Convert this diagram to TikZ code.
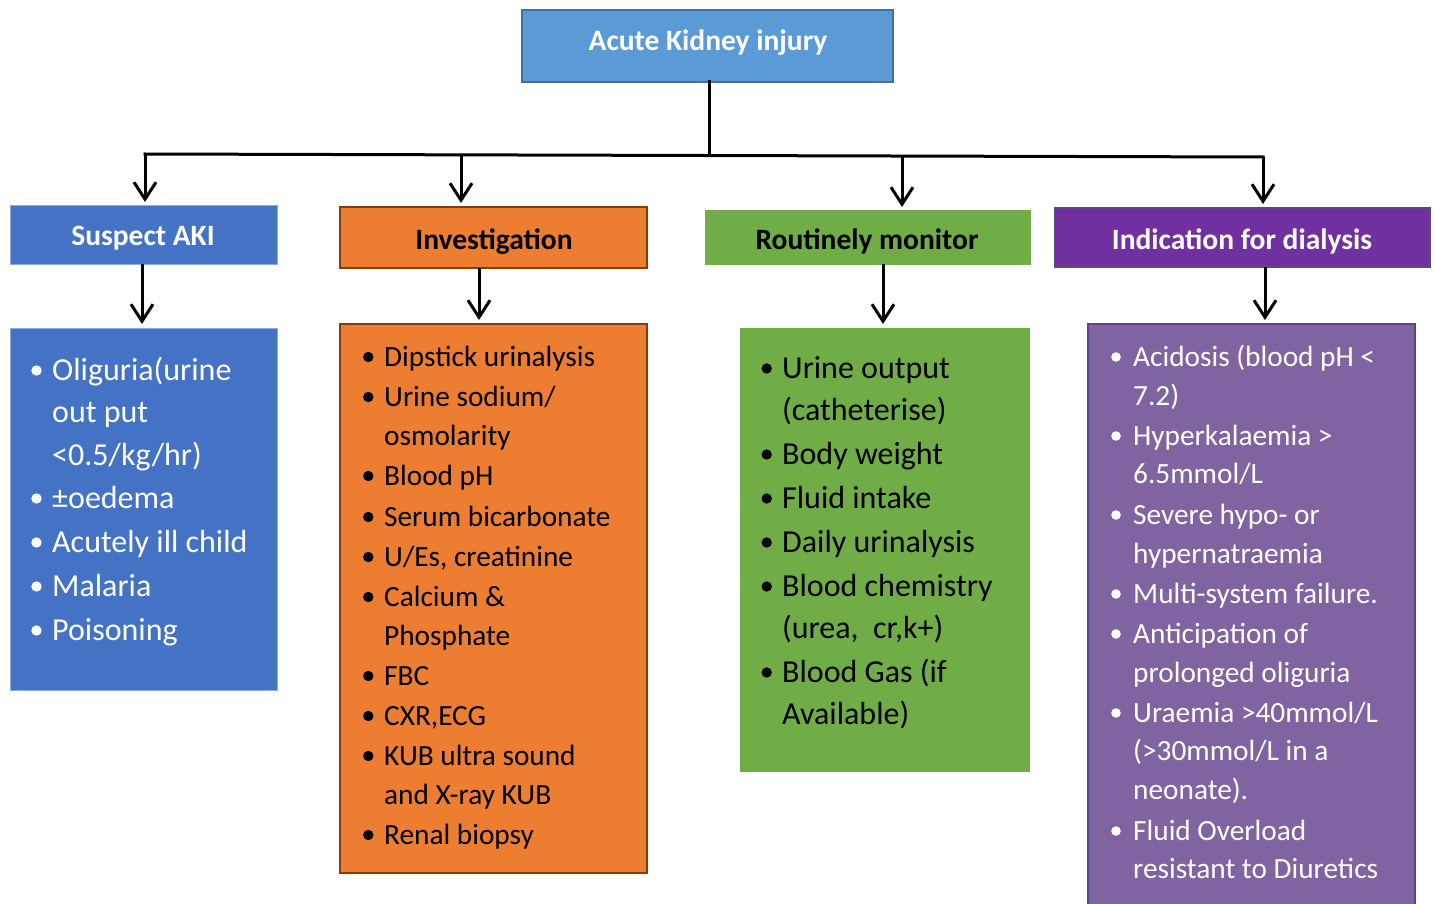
\documentclass[tikz,border=0pt]{standalone}
\usepackage{fontspec}
\setmainfont{Carlito}
\usetikzlibrary{arrows.meta}
\definecolor{topfill}{HTML}{5B9BD5}
\definecolor{topdraw}{HTML}{41719C}
\definecolor{susfill}{HTML}{4472C4}
\definecolor{susdraw}{HTML}{8FAADC}
\definecolor{invfill}{HTML}{ED7D31}
\definecolor{invdraw}{HTML}{843C0C}
\definecolor{roufill}{HTML}{70AD47}
\definecolor{diahead}{HTML}{7030A0}
\definecolor{diafill}{HTML}{8064A2}
\definecolor{diadraw}{HTML}{5C4683}
\begin{document}
\begin{tikzpicture}[x=1pt,y=-1pt,
  box/.style={anchor=north west, inner sep=0pt, outer sep=0pt},
  headtext/.style={font=\fontsize{29.5}{33}\selectfont\bfseries, inner sep=0pt, anchor=base},
  bigtext/.style={font=\fontsize{32}{36}\selectfont, inner sep=0pt, anchor=base west},
  smalltext/.style={font=\fontsize{29.3}{33}\selectfont, inner sep=0pt, anchor=base west},
  conn/.style={line width=3pt, line cap=rect},
  arr/.style={line width=3pt, -{Straight Barb[length=17pt,width=22pt]}, shorten >=4pt}]
\useasboundingbox (0,0) rectangle (1435,904);
\clip (0,0) rectangle (1435,904);
% header boxes
\node[box, fill=topfill, draw=topdraw, line width=1.5pt, minimum width=371pt, minimum height=72pt] (top) at (522,10) {};
\node[headtext, text=white] (toptxt) at (708,51) {Acute Kidney injury};
\node[box, fill=susfill, draw=susdraw, line width=1pt, minimum width=267pt, minimum height=58pt] (sus) at (10,206) {};
\node[headtext, text=white] (sustxt) at (143,245) {Suspect AKI};
\node[box, fill=invfill, draw=invdraw, line width=2pt, minimum width=307pt, minimum height=61pt] (inv) at (340,207) {};
\node[headtext, text=black] (invtxt) at (494,249) {Investigation};
\node[box, fill=roufill, draw=roufill, line width=1pt, minimum width=325pt, minimum height=53pt] (rou) at (705,211) {};
\node[headtext, text=black] (routxt) at (867,250) {Routinely monitor};
\node[box, fill=diahead, draw=diadraw, line width=1.5pt, minimum width=375pt, minimum height=59pt] (dia) at (1055,208) {};
\node[headtext, text=white] (diatxt) at (1242,249) {Indication for dialysis};
% body boxes
\node[box, fill=susfill, draw=susdraw, line width=1pt, minimum width=267pt, minimum height=362pt] (susb) at (10,328) {};
\node[box, fill=invfill, draw=invdraw, line width=2.5pt, minimum width=307pt, minimum height=549pt] (invb) at (340,324) {};
\node[box, fill=roufill, draw=roufill, line width=1pt, minimum width=289pt, minimum height=443pt] (roub) at (740,328) {};
\node[box, fill=diafill, draw=diadraw, line width=2pt, minimum width=327pt, minimum height=600pt] (diab) at (1088,324) {};
% connectors
\coordinate (jn) at (709,155);
\coordinate (b1) at (145,154);
\coordinate (b2) at (461,155);
\coordinate (b3) at (902,156);
\coordinate (b4) at (1263,157);
\draw[conn] (top.south -| jn) -- (jn);
\draw[conn] (b1) -- (b4);
\draw[arr] (b1) -- (b1 |- sus.north);
\draw[arr] (b2) -- (b2 |- inv.north);
\draw[arr] (b3) -- (b3 |- rou.north);
\draw[arr] (b4) -- (b4 |- dia.north);
\coordinate (c1) at (142,264);
\coordinate (c2) at (479,268);
\coordinate (c3) at (883,264);
\coordinate (c4) at (1265,267);
\draw[arr] (c1) -- (c1 |- susb.north);
\draw[arr] (c2) -- (c2 |- invb.north);
\draw[arr] (c3) -- (c3 |- roub.north);
\draw[arr] (c4) -- (c4 |- diab.north);
% texts
\foreach \yy/\bb/\txt [count=\i] in {369/1/{Oliguria(urine}, 411/0/{out put}, 454/0/{<0.5/kg/hr)}, 497/1/{±oedema}, 541/1/{Acutely ill child}, 585/1/{Malaria}, 629/1/{Poisoning}}{
  \node[bigtext, text=white] (s\i) at (52,\yy+11) {\txt};
  \ifnum\bb=1 \fill[white] (36.5,\yy+1.5) circle (5.2pt);\fi}
\foreach \yy/\bb/\txt [count=\i] in {356/1/{Dipstick urinalysis}, 396/1/{Urine sodium/}, 435/0/{osmolarity}, 475/1/{Blood pH}, 516/1/{Serum bicarbonate}, 556/1/{U/Es, creatinine}, 596/1/{Calcium \&}, 635/0/{Phosphate}, 675/1/{FBC}, 715/1/{CXR,ECG}, 755/1/{KUB ultra sound}, 794/0/{and X-ray KUB}, 834/1/{Renal biopsy}}{
  \node[smalltext, text=black] (i\i) at (384,\yy+10) {\txt};
  \ifnum\bb=1 \fill[black] (368.3,\yy+1) circle (5.2pt);\fi}
\foreach \yy/\bb/\txt [count=\i] in {367/1/{Urine output}, 409/0/{(catheterise)}, 453/1/{Body weight}, 497/1/{Fluid intake}, 541/1/{Daily urinalysis}, 585/1/{Blood chemistry}, 627/0/{(urea,\ \ cr,k+)}, 671/1/{Blood Gas (if}, 713/0/{Available)}}{
  \node[bigtext, text=black] (r\i) at (782,\yy+11) {\txt};
  \ifnum\bb=1 \fill[black] (766.7,\yy+1.5) circle (5.2pt);\fi}
\foreach \yy/\bb/\txt [count=\i] in {356/1/{Acidosis (blood pH <}, 395/0/{7.2)}, 435/1/{Hyperkalaemia >}, 473/0/{6.5mmol/L}, 514/1/{Severe hypo- or}, 553/0/{hypernatraemia}, 593/1/{Multi-system failure.}, 633/1/{Anticipation of}, 672/0/{prolonged oliguria}, 712/1/{Uraemia >40mmol/L}, 750/0/{(>30mmol/L in a}, 789/0/{neonate).}, 830/1/{Fluid Overload}, 868/0/{resistant to Diuretics}}{
  \node[smalltext, text=white] (d\i) at (1133,\yy+10) {\txt};
  \ifnum\bb=1 \fill[white] (1116,\yy+1) circle (4.8pt);\fi}
\end{tikzpicture}
\end{document}
